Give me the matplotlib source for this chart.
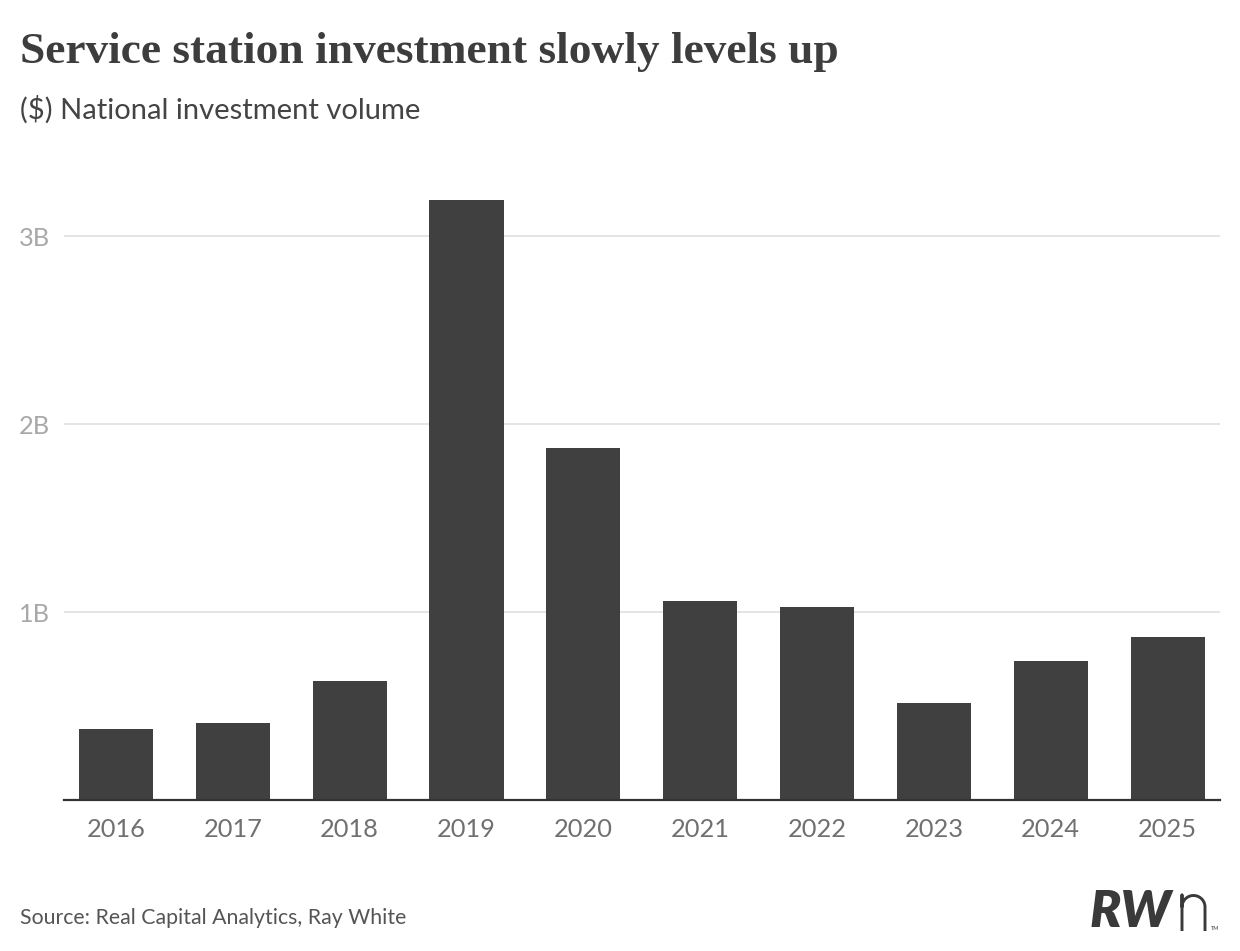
import matplotlib
matplotlib.use("Agg")
import matplotlib.pyplot as plt
from matplotlib.lines import Line2D
import numpy as np

years = ["2016", "2017", "2018", "2019", "2020", "2021", "2022", "2023", "2024", "2025"]
volume_b = [0.38, 0.41, 0.635, 3.19, 1.875, 1.06, 1.025, 0.515, 0.74, 0.865]
ytick_vals = [1, 2, 3]
ytick_labels = ["1B", "2B", "3B"]

plt.rcParams['font.family'] = ['Lato', 'DejaVu Sans']

W, H = 1240, 951
fig = plt.figure(figsize=(12.4, 9.51), dpi=100)
ax = fig.add_axes([0.0516, 0.1588, 0.9324, 0.6719])

x = np.arange(len(years))
ax.bar(x, volume_b, width=0.634, color="#404040", zorder=3)

ax.set_xlim(-0.445, 9.45)
ax.set_ylim(0, 3.4)
ax.set_yticks(ytick_vals)
ax.set_yticklabels(ytick_labels)
ax.set_xticks(x)
ax.set_xticklabels(years)
ax.grid(axis="y", color="#e2e2e2", linewidth=1.3, zorder=0)
ax.tick_params(axis="y", length=0, pad=10, labelsize=18.3, labelcolor="#a8a8a8")
ax.tick_params(axis="x", length=0, pad=13, labelsize=18.3, labelcolor="#707070")
for s in ["top", "right", "left"]:
    ax.spines[s].set_visible(False)
ax.spines["bottom"].set_color("#333333")
ax.spines["bottom"].set_linewidth(1.6)
ax.spines["bottom"].set_zorder(4)

fig.text(20/W, 1 - 52/H, "Service station investment slowly levels up",
         family=["Liberation Serif", "DejaVu Serif"], fontweight="bold",
         fontsize=32.7, color="#3d3d3d", va="center", ha="left")
fig.text(20/W, 1 - 110/H, "($) National investment volume",
         fontsize=21, color="#444444", va="center", ha="left")
fig.text(20/W, 1 - 918/H, "Source: Real Capital Analytics, Ray White",
         fontsize=15.3, color="#555555", va="center", ha="left")

# logo: bold italic RW, thin n drawn as a stroke, tiny TM
fig.text(1090/W, 1 - 912/H, "RW", fontsize=37, fontweight="heavy",
         style="italic", color="#3a3a3a", va="center", ha="left")
t = np.linspace(np.pi, 0, 40)
cx, cy, r = 1193.5, 907, 11.5
nx = np.concatenate([[cx - r, cx - r], cx + r*np.cos(t), [cx + r]])
ny = np.concatenate([[931, 895], cy - r*np.sin(t), [931]])
fig.add_artist(Line2D(nx / W, 1 - ny / H, transform=fig.transFigure,
                      color="#3a3a3a", linewidth=2.1, solid_capstyle="butt"))
fig.text(1211/W, 1 - 929/H, "TM", fontsize=4, color="#3a3a3a",
         va="center", ha="left")

fig.savefig("out.png", dpi=100, facecolor="white")
